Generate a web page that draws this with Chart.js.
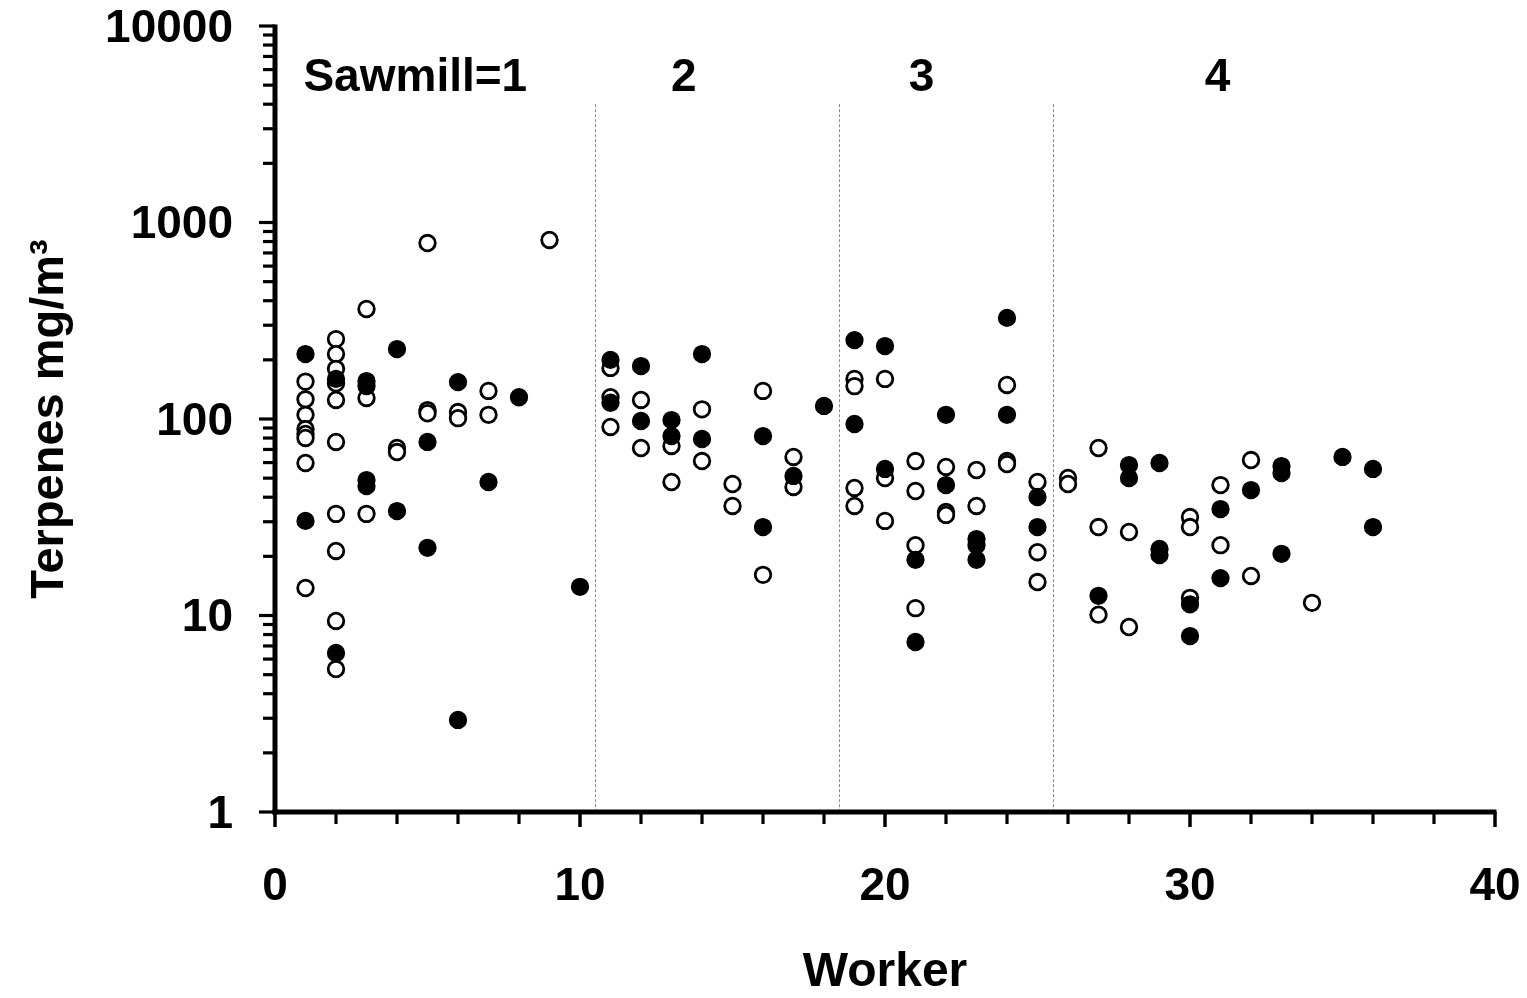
<!DOCTYPE html>
<html><head><meta charset="utf-8">
<script src="https://cdn.jsdelivr.net/npm/chart.js@4.4.1/dist/chart.umd.min.js"></script>
<style>html,body{margin:0;padding:0;background:#fff;}#wrap{width:1527px;height:998px;position:relative;}</style>
</head><body><div id="wrap"><canvas id="c"></canvas></div>
<script>
// ---- data ----
const closedWorker = [1,1, 2,2, 3,3,3,3, 4,4, 5,5, 6,6, 7, 8, 10, 11,11, 12,12, 13,13, 14,14, 16,16, 17, 18, 19,19, 20,20, 21,21, 22,22, 23,23,23, 24,24, 25,25, 27, 28,28, 29,29,29, 30,30, 31,31, 32, 33,33,33, 35, 36,36];
const closedValue  = [214,30.3, 160,6.45, 156,147,48.9,45.6, 227,34.0, 76.4,22.1, 154,2.94, 47.8, 129, 14.0, 200,121, 186,97.7, 98.8,81.9, 214,79.1, 81.9,28.2, 51.3, 116.5, 252,94.3, 235,55.7, 19.2,7.33, 105,46.1, 24.5,22.8,19.2, 327,105, 40.1,28.2, 12.6, 58.3,50.1, 59.7,21.8,20.3, 11.4,7.86, 34.8,15.5, 43.5, 57.6,53.1,20.6, 64.1, 55.7,28.2];

const openWorker = [1,1,1,1,1,1,1,1, 2,2,2,2,2,2,2,2,2,2, 3,3,3, 4,4, 5,5,5, 6,6, 7,7, 9, 11,11,11, 12,12, 13,13, 14,14, 15,15, 16,16, 17,17, 19,19,19,19, 20,20,20, 21,21,21,21, 22,22,22, 23,23, 24,24,24, 25,25,25, 26,26, 27,27,27, 28,28, 30,30,30, 31,31, 32,32, 34];
const openValue  = [155,126,105,88.9,83.9,80.1,59.7,13.8, 255,214,180,152,125,76.4,32.9,21.3,9.38,5.34, 363,128,32.9, 71.2,67.9, 786,111,107, 108.5,101, 139,105, 815, 182,129,91.1, 125,71.2, 72.9,47.8, 112,61.1, 46.7,36.1, 139,16.1, 64.1,45.1, 160,147,44.6,36.1, 160,50.1,30.3, 61.1,43.0,22.8,10.9, 57.0,33.6,32.5, 55.0,36.1, 149,61.1,59.0, 47.8,21.0,14.8, 50.1,46.7, 71.2,28.2,10.1, 26.6,8.74, 31.7,28.2,12.3, 46.1,22.8, 61.8,15.9, 11.6];

const xTickValues = [0,2,4,6,8,10,12,14,16,18,20,22,24,26,28,30,32,34,36,38,40];
const xTickLabels = ['0','','','','','10','','','','','20','','','','','30','','','','','40'];
const yTickValues = [1,2,3,4,5,6,7,8,9,10,20,30,40,50,60,70,80,90,100,200,300,400,500,600,700,800,900,1000,2000,3000,4000,5000,6000,7000,8000,9000,10000];
const yMajorTicks = [1,10,100,1000,10000];

const sawmillBoundaries = [10.5, 18.5, 25.5];
const sawmillLabels = ['Sawmill=1','2','3','4'];
const sawmillLabelX = [4.6, 13.4, 21.2, 30.9];

const xTitle = 'Worker';
const yTitle = 'Terpenes mg/m\u00B3';

// ---- build ----
const FONT = "'Liberation Sans', Arial, sans-serif";
const closedPts = closedWorker.map((w,i)=>({x:w, y:closedValue[i]}));
const openPts = openWorker.map((w,i)=>({x:w, y:openValue[i]}));

const guidePlugin = {
  id:'guides',
  beforeDatasetsDraw(chart){
    const {ctx, scales:{x,y}} = chart;
    ctx.save();
    ctx.strokeStyle = '#8c8c8c';
    ctx.lineWidth = 1;
    ctx.setLineDash([3,2]);
    sawmillBoundaries.forEach(b=>{
      const px = Math.round(x.getPixelForValue(b))+0.5;
      ctx.beginPath();
      ctx.moveTo(px, y.getPixelForValue(4000));
      ctx.lineTo(px, y.getPixelForValue(1));
      ctx.stroke();
    });
    ctx.restore();
  },
  afterDatasetsDraw(chart){
    const {ctx, scales:{x,y}} = chart;
    ctx.save();
    ctx.fillStyle = '#000';
    ctx.font = 'bold 46px ' + FONT;
    ctx.textAlign = 'center';
    ctx.textBaseline = 'middle';
    sawmillLabels.forEach((s,i)=>{
      ctx.fillText(s, x.getPixelForValue(sawmillLabelX[i]), y.getPixelForValue(5400));
    });
    ctx.restore();
  },
  afterDraw(chart){
    const {ctx, scales:{x,y}} = chart;
    ctx.save();
    ctx.strokeStyle = '#000';
    ctx.lineCap = 'butt';
    const x0 = x.getPixelForValue(0);
    const y0 = y.getPixelForValue(1);
    ctx.lineWidth = 3.2;
    yTickValues.forEach(v=>{
      const py = y.getPixelForValue(v);
      const major = yMajorTicks.includes(v);
      ctx.beginPath(); ctx.moveTo(x0 - (major ? 16 : 12), py); ctx.lineTo(x0, py); ctx.stroke();
    });
    xTickValues.forEach((v,i)=>{
      const px = x.getPixelForValue(v);
      const major = xTickLabels[i] !== '';
      ctx.lineWidth = major ? 3.5 : 3.2;
      ctx.beginPath(); ctx.moveTo(px, y0); ctx.lineTo(px, y0 + (major ? 15 : 12)); ctx.stroke();
    });
    ctx.lineWidth = 5;
    ctx.beginPath(); ctx.moveTo(x0, y.getPixelForValue(10000) - 1.5); ctx.lineTo(x0, y0 + 2.5); ctx.stroke();
    ctx.beginPath(); ctx.moveTo(x0 - 2.5, y0); ctx.lineTo(x.getPixelForValue(40) + 1.5, y0); ctx.stroke();
    ctx.restore();
  }
};

new Chart(document.getElementById('c'), {
  type:'scatter',
  data:{datasets:[
    {label:'closed', data:closedPts, order:0, pointRadius:8.4, pointHoverRadius:8.4, pointBackgroundColor:'#000', pointBorderColor:'#000', pointBorderWidth:1.5},
    {label:'open', data:openPts, order:1, pointRadius:7.8, pointHoverRadius:7.8, pointBackgroundColor:'#fff', pointBorderColor:'#000', pointBorderWidth:2.8}
  ]},
  options:{
    responsive:true, maintainAspectRatio:false, animation:false,
    layout:{padding:{left:0, right:32, top:26, bottom:0}},
    plugins:{legend:{display:false}, tooltip:{enabled:false}},
    events:[],
    scales:{
      x:{type:'linear', min:0, max:40,
        afterBuildTicks(s){ s.ticks = xTickValues.map(v=>({value:v})); },
        afterFit(s){ s.height = 186; s.paddingLeft = 0; s.paddingRight = 0; },
        grid:{display:false, drawTicks:false}, border:{display:false},
        ticks:{autoSkip:false, maxRotation:0, padding:52, color:'#000',
          font:{family:FONT, size:46, weight:'bold', lineHeight:1},
          callback(v){ const i = xTickValues.indexOf(v); return i>=0 ? xTickLabels[i] : ''; }},
        title:{display:true, text:xTitle, color:'#000', font:{family:FONT, size:48, weight:'bold', lineHeight:1.2}, padding:{top:0,bottom:-4}}
      },
      y:{type:'logarithmic', min:1, max:10000,
        afterBuildTicks(s){ s.ticks = yTickValues.map(v=>({value:v, major: yMajorTicks.includes(v)})); },
        afterFit(s){ s.width = 275; s.paddingTop = 0; s.paddingBottom = 0; },
        grid:{display:false, drawTicks:false}, border:{display:false},
        ticks:{autoSkip:false, padding:42, color:'#000', labelOffset:3,
          font:{family:FONT, size:46, weight:'bold', lineHeight:1},
          callback(v){ return yMajorTicks.includes(v) ? String(v) : ''; }},
        title:{display:true, text:yTitle, color:'#000', font:{family:FONT, size:47, weight:'bold', lineHeight:1.2}, padding:{top:22,bottom:0}}
      }
    }
  },
  plugins:[guidePlugin]
});
</script></body></html>
